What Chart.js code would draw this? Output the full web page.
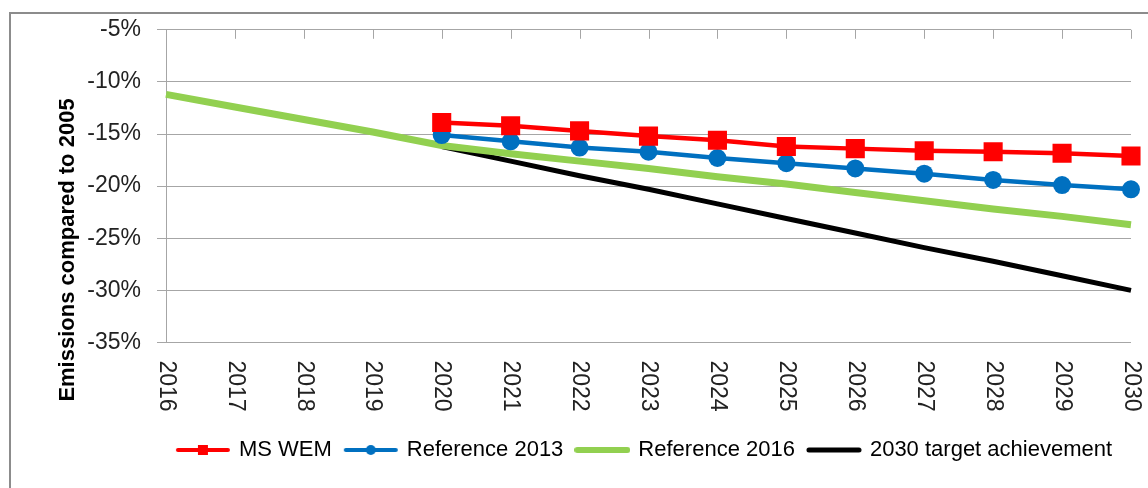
<!DOCTYPE html>
<html>
<head>
<meta charset="utf-8">
<script src="https://cdn.jsdelivr.net/npm/chart.js@4.4.1/dist/chart.umd.min.js"></script>
<style>
  html, body { margin: 0; padding: 0; background: #fff; }
  #wrap { position: relative; width: 1148px; height: 488px; }
</style>
</head>
<body>
<div id="wrap"><canvas id="chart"></canvas></div>
<script>
'use strict';

// chart data
const YEARS = ['2016', '2017', '2018', '2019', '2020', '2021', '2022', '2023',
               '2024', '2025', '2026', '2027', '2028', '2029', '2030'];
const MS_WEM = [null, null, null, null, -13.9, -14.2, -14.7, -15.2,
                -15.6, -16.2, -16.4, -16.6, -16.7, -16.85, -17.1];
const REF_2013 = [null, null, null, null, -15.1, -15.7, -16.3, -16.7,
                  -17.3, -17.8, -18.3, -18.8, -19.4, -19.9, -20.3];
const REF_2016 = [-11.2, -12.4, -13.6, -14.8, -16.1, -16.9, -17.6, -18.3,
                  -19.1, -19.8, -20.6, -21.4, -22.2, -22.9, -23.7];
const TARGET_2030 = [null, null, null, null, -16.2, -17.6, -19.0, -20.3,
                     -21.7, -23.1, -24.5, -25.9, -27.2, -28.6, -30.0];
const Y_TITLE = 'Emissions compared to 2005';

const FONT = '"Liberation Sans", Arial, sans-serif';
const GRID = '#a6a6a6';

// excel style legend icon: line with marker in the middle
const legend_icon = (color, width, marker) => {
  const c = document.createElement('canvas');
  c.width = 56;
  c.height = 18;
  const ctx = c.getContext('2d');
  ctx.strokeStyle = color;
  ctx.fillStyle = color;
  ctx.lineWidth = width;
  ctx.lineCap = 'round';
  ctx.beginPath();
  ctx.moveTo(3, 9);
  ctx.lineTo(53, 9);
  ctx.stroke();
  if (marker === 'rect') {
    ctx.fillRect(23, 4, 10, 10);
  } else if (marker === 'circle') {
    ctx.beginPath();
    ctx.arc(28, 9, 5, 0, Math.PI * 2);
    ctx.fill();
  }
  return c;
};

// draws frame, top ticks, rotated year labels and axis title
const decor = {
  id: 'decor',
  afterLayout(chart) {
    // legend sits off centre in the original (chart is cropped on the right)
    const lg = chart.legend;
    const shift = 645 - (lg.left + lg.right) / 2;
    lg.left += shift;
    lg.right += shift;
  },
  beforeDraw(chart) {
    const ctx = chart.ctx;
    ctx.save();
    ctx.strokeStyle = '#8c8c8c';
    ctx.lineWidth = 2;
    ctx.strokeRect(10, 13, 1160, 600);
    ctx.restore();
  },
  afterDraw(chart) {
    const ctx = chart.ctx, x = chart.scales.x, area = chart.chartArea;
    ctx.save();

    // ticks hanging from the top line
    ctx.strokeStyle = GRID;
    ctx.lineWidth = 1;
    YEARS.forEach((_, i) => {
      const px = Math.round(x.getPixelForTick(i)) + 0.5;
      ctx.beginPath();
      ctx.moveTo(px, area.top);
      ctx.lineTo(px, area.top + 9);
      ctx.stroke();
    });

    // year labels, turned clockwise
    ctx.fillStyle = '#222';
    ctx.font = '23px ' + FONT;
    ctx.textAlign = 'left';
    ctx.textBaseline = 'middle';
    YEARS.forEach((label, i) => {
      ctx.save();
      ctx.translate(x.getPixelForTick(i), area.bottom + 18);
      ctx.rotate(Math.PI / 2);
      ctx.fillText(label, 0, 0);
      ctx.restore();
    });

    // y axis title
    ctx.font = 'bold 22px ' + FONT;
    ctx.fillStyle = '#000';
    ctx.textAlign = 'center';
    ctx.translate(68, 250);
    ctx.rotate(-Math.PI / 2);
    ctx.fillText(Y_TITLE, 0, 0);
    ctx.restore();
  },
};

const line_set = (label, data, color, width, style, radius, icon) => ({
  label: label,
  data: data,
  borderColor: color,
  backgroundColor: color,
  borderWidth: width,
  pointStyle: style,
  pointRadius: radius,
  pointHoverRadius: radius,
  pointBorderWidth: 0,
  pointBackgroundColor: color,
  tension: 0,
  spanGaps: false,
  legendIcon: icon,
});

new Chart(document.getElementById('chart'), {
  type: 'line',
  data: {
    labels: YEARS,
    datasets: [
      line_set('MS WEM', MS_WEM, '#ff0000', 4.5, 'rect', 13.5, legend_icon('#ff0000', 4, 'rect')),
      line_set('Reference 2013', REF_2013, '#0070c0', 4.5, 'circle', 9, legend_icon('#0070c0', 4, 'circle')),
      line_set('Reference 2016', REF_2016, '#92d050', 7, false, 0, legend_icon('#92d050', 6)),
      line_set('2030 target achievement', TARGET_2030, '#000000', 5, false, 0, legend_icon('#000000', 5)),
    ],
  },
  options: {
    responsive: true,
    maintainAspectRatio: false,
    animation: false,
    layout: {
      padding: { left: 70, right: 17, top: 29, bottom: 17 },
    },
    scales: {
      x: {
        type: 'category',
        offset: false,
        grid: { display: false },
        border: { display: false },
        ticks: { display: false },
        afterFit: (s) => { s.height = 82.5; },
      },
      y: {
        min: -35,
        max: -5,
        ticks: {
          stepSize: 5,
          padding: 16,
          color: '#222',
          font: { family: FONT, size: 23 },
          callback: (v) => v + '%',
        },
        grid: { color: GRID, lineWidth: 1, tickLength: 9, drawTicks: true },
        border: { display: true, color: GRID, width: 1 },
        afterFit: (s) => { s.width = 96; },
      },
    },
    plugins: {
      legend: {
        position: 'bottom',
        labels: {
          usePointStyle: true,
          pointStyleWidth: 50,
          padding: 14,
          color: '#222',
          font: { family: FONT, size: 22 },
          generateLabels: (chart) => chart.data.datasets.map((d, i) => ({
            text: d.label,
            pointStyle: d.legendIcon,
            fillStyle: d.borderColor,
            strokeStyle: d.borderColor,
            lineWidth: 0,
            hidden: false,
            datasetIndex: i,
          })),
        },
      },
      tooltip: { enabled: false },
    },
  },
  plugins: [decor],
});
</script>
</body>
</html>
